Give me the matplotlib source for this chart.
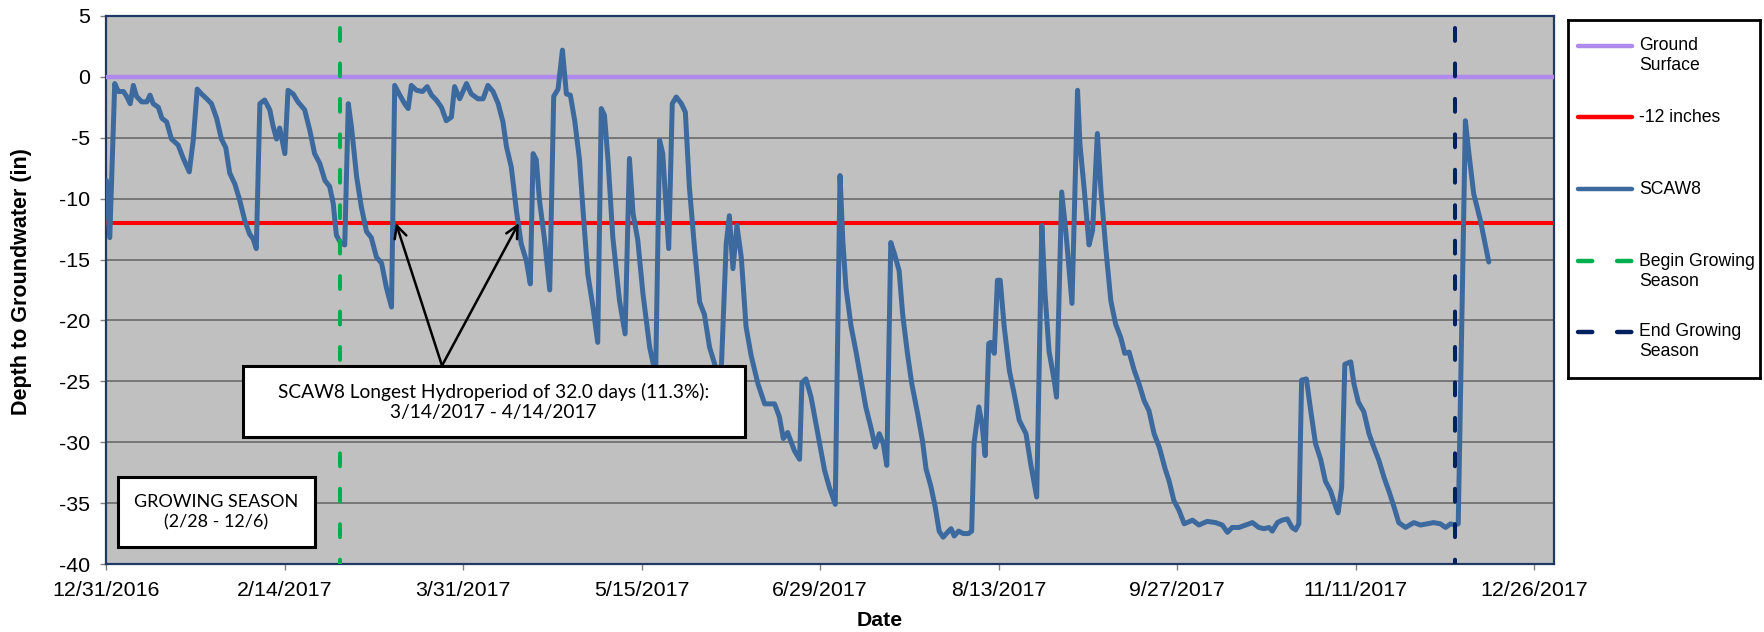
import matplotlib
matplotlib.use("Agg")
import matplotlib.pyplot as plt
import matplotlib.dates as mdates
from matplotlib.patches import Rectangle
from matplotlib.ticker import FixedLocator, FuncFormatter
from datetime import datetime, timedelta

# ---------------- data ----------------
start_date = datetime(2016, 12, 31)
end_date = datetime(2017, 12, 31)

# SCAW8 record: days since 12/31/2016 and depth to groundwater (in)
days_since_start = [
    0, 0.85, 2.1, 3, 4.3, 5.1, 6, 6.8, 7.6, 8.9, 10.2, 11, 11.8, 13.1, 14, 15.2,
    16.4, 18.1, 19.4, 20.9, 21.9, 22.9, 24, 25.3, 26.5, 27.8, 29, 30.1, 31.1,
    32.4, 33.6, 34.9, 36.1, 37, 37.8, 38.7, 39.9, 41.2, 42, 42.9, 43.7, 45,
    45.8, 47.1, 48.3, 50, 51.3, 52.5, 53.8, 55.1, 56.3, 57.2, 58, 59, 60.1,
    61, 61.8, 63.1, 64.3, 65.6, 66.8, 68.1, 69.4, 70.6, 71.9, 72.7, 74, 75.2,
    76.1, 76.9, 78.2, 79.7, 80.9, 82, 83.2, 84.5, 85.7, 87, 87.8, 89.1, 90.8,
    92, 93.7, 95, 96.2, 97.5, 98.8, 100, 100.9, 102.1, 103.4, 104.6, 105.9,
    106.9, 107.6, 108.4, 109.2, 110.5, 111.8, 112.8, 113.9, 115, 116, 117,
    118.1, 119.3, 120.2, 121.4, 122.7, 123.9, 124.8, 125.6, 126.5, 127.7,
    129.4, 130.8, 131.9, 132.8, 134, 135.3, 137, 138.5, 139.5, 140.3, 141.8,
    142.7, 143.7, 145, 146, 147, 148.3, 149.6, 150.8, 152.1, 153.6, 155,
    156.3, 157.1, 158, 159, 160.1, 161.3, 162.6, 164.3, 166, 168.5, 169.7,
    170.7, 171.8, 173.5, 174.8, 175.4, 176.4, 177.7, 179.4, 181.1, 182.3,
    183.8, 185, 185.7, 186.5, 187.8, 189, 190.3, 191.5, 192.8, 193.9, 194.9,
    195.9, 196.8, 197.8, 198.7, 199.9, 200.8, 202, 203.1, 204.6, 205.8,
    206.7, 207.9, 209, 210, 211, 212.1, 213, 213.8, 214.9, 216.1, 217.4,
    218.2, 218.8, 220, 220.8, 221.6, 222.5, 223, 223.9, 224.7, 225.4, 226.4,
    227.7, 228.9, 230.2, 231.9, 233.1, 234.6, 235.9, 236.7, 237.7, 239,
    239.6, 240.9, 242, 243.5, 244.9, 245.5, 246.6, 247.8, 248.7, 249.9,
    250.8, 252, 253.3, 254.5, 255.8, 256.8, 257.9, 259.2, 260.4, 261.7,
    262.9, 264.2, 265.5, 267, 268, 269.2, 270.5, 271.8, 273.9, 275.5, 277.6,
    279.7, 281.4, 282.7, 283.9, 285.6, 287.3, 289, 290.6, 291.9, 293.2, 294,
    295.3, 296.5, 297.8, 299, 299.9, 300.7, 301.4, 302.6, 303.7, 304.9,
    306.2, 307.4, 308.7, 310, 310.6, 311.5, 312.3, 313.8, 314.6, 315.7,
    317.1, 318.4, 319.6, 320.9, 322.2, 323.4, 324.7, 325.9, 327.6, 329.7,
    331.4, 333.1, 334.7, 336.4, 337.7, 339, 340, 340.9, 342.7, 343.6, 344.8,
    346.5, 348.6,
]
scaw8_depth = [
    -8.5, -13.2, -0.55, -1.2, -1.2, -1.6, -2.2, -0.7, -1.6, -2.05, -2.05, -1.5,
    -2.2, -2.5, -3.4, -3.7, -5.1, -5.6, -6.7, -7.8, -5.2, -1.0, -1.4, -1.8,
    -2.2, -3.4, -5.1, -5.8, -7.9, -8.8, -10.1, -11.8, -12.9, -13.3, -14.1,
    -2.2, -1.9, -2.7, -4.0, -5.1, -4.2, -6.3, -1.1, -1.4, -2.05, -2.7, -4.4,
    -6.3, -7.1, -8.5, -9.0, -10.4, -13.0, -13.6, -13.8,
    -2.2, -4.1, -8.2, -10.7, -12.7, -13.2, -14.8, -15.3, -17.3, -18.9, -0.7,
    -1.5, -2.2, -2.6, -0.7, -1.1, -1.2, -0.8, -1.5, -1.9, -2.5, -3.6, -3.3,
    -0.8, -1.8, -0.55, -1.4, -1.8, -1.8, -0.7, -1.2, -2.2, -3.7, -5.75, -7.4,
    -11.0, -13.7, -15.1, -17.0, -6.3, -6.8, -10.1, -13.4, -17.5, -1.6, -1.0,
    2.2, -1.4, -1.5, -3.6, -6.8, -11.0, -16.2, -18.9, -21.8, -2.6, -3.15,
    -6.85, -13.15, -18.4, -21.1, -6.7, -11.2, -13.4, -17.8, -22.2, -24.5,
    -5.2, -6.3, -14.1, -2.2, -1.65, -2.2, -2.9, -9.0, -14.0, -18.5, -19.5,
    -22.2, -23.8, -24.5, -13.7, -11.4, -15.75, -12.2, -14.8, -20.5, -22.9,
    -25.2, -26.85, -26.85, -27.9, -29.7, -29.2, -30.7, -31.4, -25.1, -24.8,
    -26.3, -29.3, -32.3, -33.7, -35.1, -8.1, -13.4, -17.3, -20.5, -22.5,
    -24.9, -27.1, -28.8, -30.4, -29.3, -30.1, -31.9, -13.6, -14.5, -15.9,
    -19.5, -22.7, -25.2, -27.7, -29.9, -32.2, -33.6, -35.3, -37.3, -37.8,
    -37.4, -37.1, -37.7, -37.3, -37.5, -37.5, -37.3, -30.1, -27.1, -28.5,
    -31.1, -21.9, -21.8, -22.7, -16.7, -16.7, -20.5, -24.1, -26.0, -28.2,
    -29.3, -31.8, -34.5, -12.2, -17.8, -22.5, -24.9, -26.3, -9.45, -12.9,
    -18.6, -1.1, -5.5, -9.3, -13.8, -12.6, -4.65, -9.3, -14.0, -18.4, -20.3,
    -21.4, -22.7, -22.6, -24.1, -25.2, -26.6, -27.4, -29.3, -30.4, -32.2,
    -33.2, -34.8, -35.6, -36.7, -36.4, -36.8, -36.5, -36.6, -36.8, -37.4,
    -37.0, -37.0, -36.8, -36.6, -37.0, -37.1, -37.0, -37.3, -36.6, -36.4,
    -36.3, -37.0, -37.2, -36.7, -24.9, -24.8, -27.4, -30.1, -31.4, -33.2,
    -34.0, -35.3, -35.8, -33.7, -23.6, -23.4, -25.2, -26.7, -27.5, -29.3,
    -30.4, -31.5, -32.9, -34.0, -35.3, -36.6, -37.0, -36.6, -36.8, -36.7,
    -36.6, -36.7, -37.0, -36.7, -36.8, -36.7, -3.6, -6.3, -9.6, -11.8, -15.2,
]

ground_surface = 0
threshold_depth = -12
growing_season_start = datetime(2017, 2, 28)
growing_season_end = datetime(2017, 12, 6)
growing_line_range = (-40, 4)
hydroperiod_start = datetime(2017, 3, 14)
hydroperiod_end = datetime(2017, 4, 14)
tick_interval_days = 45
n_xticks = 9
y_ticks = list(range(-40, 6, 5))

series_labels = ["Ground\nSurface", "-12 inches", "SCAW8",
                 "Begin Growing\nSeason", "End Growing\nSeason"]
hydro_text = ("SCAW8 Longest Hydroperiod of 32.0 days (11.3%):\n"
              "3/14/2017 - 4/14/2017")
growing_text = "GROWING SEASON\n(2/28 - 12/6)"

# ---------------- styling ----------------
plt.rcParams["font.family"] = ["Liberation Sans", "DejaVu Sans"]
plt.rcParams["axes.unicode_minus"] = False

C_GROUND = "#AD8AEB"
C_RED = "#FF0000"
C_BLUE = "#3D6A9E"
C_GREEN = "#00B050"
C_NAVY = "#002060"
BOX_FONT = ["Lato", "DejaVu Sans"]

W, H = 1765, 632
fig = plt.figure(figsize=(W / 100, H / 100), dpi=100)
fig.patch.set_facecolor("white")

ax_l, ax_r, ax_t, ax_b = 106.4, 1553.8, 16, 564
ax = fig.add_axes([ax_l / W, 1 - ax_b / H, (ax_r - ax_l) / W, (ax_b - ax_t) / H])
ax.set_facecolor("#C0C0C0")

x0 = mdates.date2num(start_date)
x_series = [x0 + d for d in days_since_start]
x_end = mdates.date2num(end_date)

ax.plot([x0, x_end], [ground_surface, ground_surface], color=C_GROUND, lw=3.2,
        solid_capstyle="butt", zorder=3, clip_on=False)
ax.plot([x0, x_end], [threshold_depth, threshold_depth], color=C_RED, lw=2.9,
        solid_capstyle="butt", zorder=3, clip_on=False)
ax.plot(x_series, scaw8_depth, color=C_BLUE, lw=3.6, solid_joinstyle="round",
        solid_capstyle="round", zorder=4)
gs = mdates.date2num(growing_season_start)
ge = mdates.date2num(growing_season_end)
for xv, col in ((gs, C_GREEN), (ge, C_NAVY)):
    ln, = ax.plot([xv, xv], [growing_line_range[1], growing_line_range[0]],
                  color=col, lw=2.9, dash_capstyle="round", zorder=5)
    ln.set_dashes((3.2, 5.6))

ax.set_xlim(x0, x_end)
ax.set_ylim(-40, 5)
ax.yaxis.set_major_locator(FixedLocator(y_ticks))
xticks = [x0 + tick_interval_days * k for k in range(n_xticks)]
ax.xaxis.set_major_locator(FixedLocator(xticks))


def fmt_date(v, pos=None):
    d = mdates.num2date(v)
    return f"{d.month}/{d.day}/{d.year}"


ax.xaxis.set_major_formatter(FuncFormatter(fmt_date))
ax.yaxis.grid(True, color="#6A6A6A", lw=1.2)
ax.set_axisbelow(True)
for sp in ax.spines.values():
    sp.set_color("#1F3864")
    sp.set_linewidth(1.6)
ax.tick_params(axis="both", direction="out", length=4.3, width=1,
               color="#808080", labelsize=15.4, labelcolor="black")
ax.tick_params(axis="y", pad=7.5)
ax.tick_params(axis="x", pad=8)

fig.text(22 / W, 1 - 281.7 / H, "Depth to Groundwater (in)", rotation=90,
         fontsize=15.5, fontweight="bold", ha="center", va="center")
fig.text(880 / W, 1 - 620.7 / H, "Date", fontsize=15.3, fontweight="bold",
         ha="center", va="center")

# annotation boxes
def ax_frac(px, py):
    return ((px - ax_l) / (ax_r - ax_l), (ax_b - py) / (ax_b - ax_t))


for (bx0, by0, bx1, by1) in ((243, 365.7, 744.6, 436.7), (117.9, 477, 314.6, 546.7)):
    fx0, fy1 = ax_frac(bx0, by0)
    fx1, fy0 = ax_frac(bx1, by1)
    ax.add_patch(Rectangle((fx0, fy0), fx1 - fx0, fy1 - fy0, transform=ax.transAxes,
                           facecolor="white", edgecolor="black", lw=2.2, zorder=6))

tx, ty = ax_frac(493.8, 401.7)
ax.text(tx, ty, hydro_text, transform=ax.transAxes, ha="center", va="center",
        fontsize=13.8, family=BOX_FONT, linespacing=1.22, zorder=7)
tx, ty = ax_frac(216, 512)
ax.text(tx, ty, growing_text, transform=ax.transAxes, ha="center", va="center",
        fontsize=13, family=BOX_FONT, linespacing=1.3, zorder=7)

tail = ax_frac(442, 365.7)
for d in (hydroperiod_start, hydroperiod_end):
    ax.annotate("", xy=(mdates.date2num(d), threshold_depth), xycoords="data",
                xytext=tail, textcoords="axes fraction",
                arrowprops=dict(arrowstyle="->", lw=1.8, color="black",
                                shrinkA=0, shrinkB=0, mutation_scale=22),
                zorder=8)

# legend
lg_l, lg_t, lg_r, lg_b = 1568, 20, 1760, 378
lax = fig.add_axes([lg_l / W, 1 - lg_b / H, (lg_r - lg_l) / W, (lg_b - lg_t) / H])
lax.set_xlim(0, lg_r - lg_l)
lax.set_ylim(lg_b - lg_t, 0)
lax.set_xticks([])
lax.set_yticks([])
for sp in lax.spines.values():
    sp.set_color("black")
    sp.set_linewidth(2)
entry_y = [26, 97, 169, 241, 312]
styles = [(C_GROUND, None), (C_RED, None), (C_BLUE, None),
          (C_GREEN, (3.2, 5.6)), (C_NAVY, (3.2, 5.6))]
for y, lab, (col, dash) in zip(entry_y, series_labels, styles):
    ln, = lax.plot([10, 64], [y, y], color=col, lw=3.2, solid_capstyle="round",
                   dash_capstyle="round")
    if dash:
        ln.set_dashes(dash)
    for i, part in enumerate(lab.split("\n")):
        lax.text(71, y + 20 * i, part, fontsize=12.7, ha="left", va="center")

fig.savefig("out.png", dpi=100)
